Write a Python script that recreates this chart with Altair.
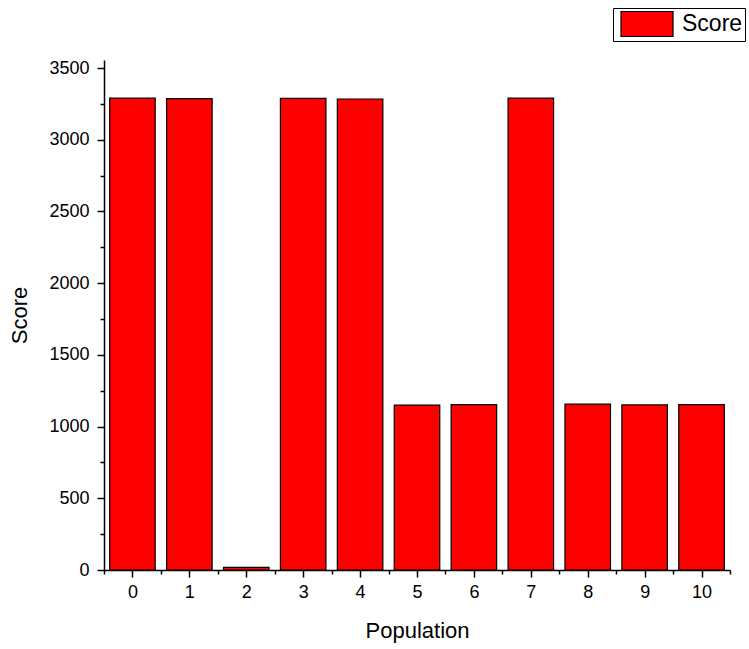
import altair as alt
import pandas as pd

population = list(range(11))
score = [3290, 3287, 18, 3288, 3284, 1150, 1153, 3290, 1156, 1151, 1153]
series = ["Score"] * 11

x_major = list(range(11))
x_minor = [i + 0.5 for i in range(-1, 11)]
y_major = [0, 500, 1000, 1500, 2000, 2500, 3000, 3500]
y_minor = [250, 750, 1250, 1750, 2250, 2750, 3250]

df = pd.DataFrame({"Population": population, "Score": score, "Series": series})

FONT = "Liberation Sans"
xscale = alt.Scale(domain=[-0.5, 10.5], nice=False, zero=False)
yscale = alt.Scale(domain=[0, 3556], nice=False)

bars = alt.Chart(df).transform_calculate(
    x0="datum.Population - 0.4", x1="datum.Population + 0.4"
).mark_bar(stroke="black", strokeWidth=1.2).encode(
    x=alt.X("x0:Q", scale=xscale,
            axis=alt.Axis(values=x_major, title="Population", orient="bottom",
                          tickSize=7, labelPadding=6, titlePadding=19, format="d")),
    x2="x1:Q",
    y=alt.Y("Score:Q", scale=yscale,
            axis=alt.Axis(values=y_major, title="Score", orient="left",
                          tickSize=7, labelPadding=8, titlePadding=17, format="d")),
    y2=alt.datum(0),
    color=alt.Color("Series:N", scale=alt.Scale(range=["#ff0000"]),
                    legend=alt.Legend(title=None, orient="none", legendX=509, legendY=-52,
                                      symbolType="M-0.615,-0.96H3.385V0.96H-0.615Z",
                                      symbolSize=676,
                                      symbolStrokeColor="black", symbolStrokeWidth=1.2,
                                      symbolOpacity=1,
                                      labelFontSize=23, labelFont=FONT, labelColor="black",
                                      labelExpr="datum.label + ' '",
                                      labelOffset=39, padding=2, strokeColor="black",
                                      fillColor="white")),
)

minor = alt.Chart(df).mark_point(opacity=0).encode(
    x=alt.X("Population:Q", scale=xscale,
            axis=alt.Axis(values=x_minor, labels=False, title=None, domain=False,
                          tickSize=4, orient="bottom")),
    y=alt.Y("Score:Q", scale=yscale,
            axis=alt.Axis(values=y_minor, labels=False, title=None, domain=False,
                          tickSize=4, orient="left")),
)

chart = alt.layer(bars, minor).resolve_axis(x="independent", y="independent").properties(
    width=626, height=510,
    autosize=alt.AutoSizeParams(type="none"),
    padding={"left": 104, "top": 60, "right": 19, "bottom": 79},
).configure_view(stroke=None).configure_axis(
    grid=False, domainColor="black", domainWidth=1.5, tickColor="black", tickWidth=1.5,
    labelFont=FONT, labelFontSize=18, labelColor="black",
    titleFont=FONT, titleFontSize=22, titleColor="black", titleFontWeight="normal",
)

chart.save("out.html", embed_options={"renderer": "svg", "actions": False})
